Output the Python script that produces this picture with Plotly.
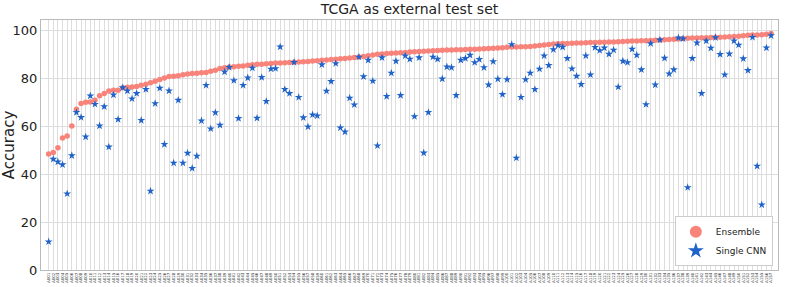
import plotly.graph_objects as go

labels = ("A001 A002 A003 A004 A005 A006 A007 A008 A009 A010 A011 A012 A013 A014 A015 A016 A017 A018 A019 A020 "
          "A021 A022 A023 A024 A025 A026 A027 A028 A029 A030 A031 A032 A033 A034 A035 A036 A037 A038 A039 A040 "
          "A041 A042 A043 A044 A045 A046 A047 A048 A049 A050 A051 A052 A053 A054 A055 A056 A057 A058 A059 A060 "
          "A061 A062 A063 A064 A065 A066 A067 A068 A069 A070 A071 A072 A073 A074 A075 A076 A077 A078 A079 A080 "
          "A081 A082 A083 A084 A085 A086 A087 A088 A089 A090 A091 A092 A093 A094 A095 A096 A097 A098 A099 A100 "
          "A101 A102 A103 A104 A105 A106 A107 A108 A109 A110 A111 A112 A113 A114 A115 A116 A117 A118 A119 A120 "
          "A121 A122 A123 A124 A125 A126 A127 A128 A129 A130 A131 A132 A133 A134 A135 A136 A137 A138 A139 A140 "
          "A141 A142 A143 A144 A145 A146 A147 A148 A149 A150 A151 A152 A153 A154 A155 A156 A157").split()

ensemble = [
    48.3, 49.0, 51.0, 55.0, 55.8, 60.0, 67.0, 69.4, 69.9, 70.0,
    70.8, 72.6, 73.6, 74.6, 74.9, 74.9, 76.0, 76.2, 76.3, 76.5,
    77.0, 77.4, 78.0, 78.7, 79.4, 80.0, 80.6, 80.8, 81.0, 81.4,
    81.7, 81.9, 82.0, 82.2, 82.3, 82.8, 83.3, 84.0, 84.3, 84.6,
    84.7, 84.9, 85.0, 85.3, 85.6, 85.8, 85.8, 86.0, 86.1, 86.3,
    86.3, 86.4, 86.5, 86.6, 86.7, 86.8, 86.9, 87.1, 87.2, 87.4,
    87.5, 87.7, 87.8, 88.0, 88.2, 88.4, 88.6, 88.8, 89.0, 89.3,
    89.6, 89.9, 90.0, 90.2, 90.3, 90.4, 90.5, 90.7, 90.9, 91.0,
    91.1, 91.2, 91.3, 91.4, 91.5, 91.6, 91.7, 91.7, 91.8, 91.8,
    91.9, 92.0, 92.0, 92.1, 92.2, 92.3, 92.4, 92.5, 92.6, 92.8,
    92.9, 92.9, 93.0, 93.1, 93.2, 93.4, 93.6, 93.8, 94.0, 94.2,
    94.3, 94.4, 94.4, 94.5, 94.6, 94.6, 94.7, 94.8, 94.8, 94.9,
    94.9, 95.0, 95.0, 95.1, 95.2, 95.3, 95.4, 95.4, 95.5, 95.6,
    95.7, 95.8, 95.9, 96.0, 96.1, 96.2, 96.3, 96.5, 96.6, 96.7,
    96.7, 96.8, 96.8, 96.9, 97.0, 97.0, 97.1, 97.2, 97.3, 97.4,
    97.6, 97.8, 97.9, 98.0, 98.1, 98.3, 98.6,
]

single_cnn = [
    11.8, 46.2, 45.1, 43.9, 31.8, 47.7, 65.7, 63.6, 55.5, 72.6,
    69.1, 60.1, 68.1, 51.3, 73.0, 62.8, 76.0, 74.7, 71.4, 73.6,
    62.4, 75.3, 32.9, 69.4, 75.8, 52.4, 74.7, 44.6, 70.8, 44.6,
    48.7, 42.4, 47.5, 62.2, 77.0, 58.9, 65.6, 60.4, 82.6, 84.5,
    79.0, 63.2, 77.0, 80.1, 84.2, 63.3, 80.3, 70.3, 83.8, 84.0,
    93.0, 75.3, 73.6, 86.6, 72.0, 63.5, 59.7, 64.7, 64.3, 85.6,
    74.6, 78.6, 86.1, 59.3, 57.6, 71.7, 68.9, 88.8, 80.6, 87.5,
    78.8, 51.8, 88.5, 72.4, 82.1, 87.1, 72.8, 89.3, 87.9, 64.0,
    88.5, 48.8, 65.7, 88.8, 87.9, 79.7, 84.7, 84.4, 72.8, 87.5,
    88.2, 89.6, 86.5, 87.8, 84.4, 77.2, 86.9, 79.6, 73.2, 79.4,
    94.0, 46.7, 72.0, 79.4, 82.1, 75.3, 83.8, 89.3, 85.3, 91.9,
    93.6, 92.9, 88.2, 83.9, 80.8, 77.4, 89.3, 81.4, 92.8, 91.5,
    92.6, 90.0, 91.7, 76.3, 87.1, 86.5, 92.1, 89.6, 83.5, 69.0,
    94.4, 77.2, 95.9, 88.3, 81.8, 83.5, 96.8, 96.4, 34.4, 88.2,
    94.7, 73.6, 95.5, 92.5, 96.9, 89.9, 81.4, 90.1, 95.5, 93.8,
    88.1, 83.2, 97.0, 43.3, 27.2, 92.6, 97.7,
]

y_ticks = [0, 20, 40, 60, 80, 100]

fig = go.Figure()
fig.add_trace(go.Scatter(
    x=labels, y=ensemble, mode="markers", name="Ensemble",
    marker=dict(symbol="circle", size=5.5, color="#F8837A", line=dict(width=0)),
))
fig.add_trace(go.Scatter(
    x=labels, y=single_cnn, mode="markers", name="Single CNN",
    marker=dict(symbol="star", size=6, color="#1F62C8", line=dict(width=0)),
))

fig.update_layout(
    width=785, height=287,
    margin=dict(l=41, r=7, t=20, b=17, autoexpand=False),
    paper_bgcolor="white", plot_bgcolor="white",
    font=dict(family="DejaVu Sans", color="#222222"),
    title=dict(text="TCGA as external test set", x=0.5, xanchor="center",
               xref="paper", yref="container",
               y=0.968, yanchor="middle", font=dict(size=14, color="#222222")),
    showlegend=True,
    legend=dict(x=0.993, y=0.015, xanchor="right", yanchor="bottom",
                bgcolor="white", bordercolor="#CCCCCC", borderwidth=1,
                font=dict(size=9, color="#222222"), itemsizing="constant",
                itemwidth=30, tracegroupgap=0),
)
fig.update_xaxes(
    type="category", range=[-1.65, len(labels) - 1 + 1.5], automargin=False,
    tickmode="array", tickvals=labels, ticktext=labels,
    tickangle=-90, tickfont=dict(size=4, color="#333333"),
    showgrid=True, gridcolor="#DDDDDD", gridwidth=0.8,
    showline=True, linecolor="#BBBBBB", linewidth=1, mirror=True,
    ticks="", zeroline=False,
)
fig.update_yaxes(
    range=[0, 104.2], tickvals=y_ticks, ticktext=[str(v) for v in y_ticks],
    automargin=False,
    tickfont=dict(size=13, color="#222222"),
    title=dict(text="Accuracy", font=dict(size=15, color="#222222"), standoff=9),
    showgrid=True, gridcolor="#DDDDDD", gridwidth=0.8,
    showline=True, linecolor="#BBBBBB", linewidth=1, mirror=True,
    ticks="", zeroline=False,
)

fig.write_html("out.html", config={"displayModeBar": False},
               post_script="document.body.style.margin='0';document.body.style.padding='0';")
